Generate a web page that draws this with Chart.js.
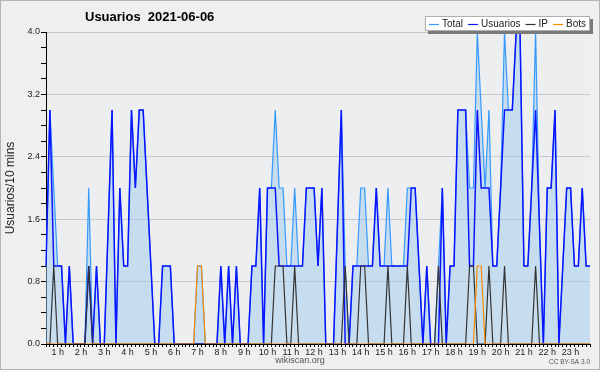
<!DOCTYPE html>
<html>
<head>
<meta charset="utf-8">
<title>Usuarios 2021-06-06</title>
<script src="https://cdn.jsdelivr.net/npm/chart.js@4.4.1/dist/chart.umd.min.js"></script>
<style>
  html, body { margin: 0; padding: 0; background: #efefef; }
  #grafico { display: block; }
</style>
</head>
<body>
<canvas id="grafico" width="600" height="370"></canvas>
<script>
// valores por franja de 10 minutos
const usuarios = [
  1, 3, 1, 1, 1, 0, 1, 0, 0, 0,
  0, 1, 0, 1, 0, 0, 1.5, 3, 0, 2,
  1, 1, 3, 2, 3, 3, 2, 1, 0, 0,
  1, 1, 1, 0, 0, 0, 0, 0, 0, 0,
  0, 0, 0, 0, 0, 1, 0, 1, 0, 1,
  0, 0, 0, 1, 1, 2, 0, 2, 2, 2,
  1, 1, 1, 1, 1, 1, 1, 2, 2, 2,
  1, 2, 0, 0, 0, 1.5, 3, 0, 0, 1,
  1, 1, 1, 1, 1, 2, 1, 1, 1, 1,
  1, 1, 1, 1, 2, 2, 1, 0, 1, 0,
  0, 0, 2, 0, 1, 1, 3, 3, 3, 1,
  1, 3, 2, 2, 2, 1, 1, 2, 3, 3,
  3, 4, 4, 1, 1, 2, 3, 1.5, 0, 2,
  2, 3, 0, 1, 2, 2, 1, 1, 2, 1, 1
];
const ips = [
  0, 0, 1, 0, 0, 0, 0, 0, 0, 0,
  0, 1, 0, 0, 0, 0, 0, 0, 0, 0,
  0, 0, 0, 0, 0, 0, 0, 0, 0, 0,
  0, 0, 0, 0, 0, 0, 0, 0, 0, 0,
  0, 0, 0, 0, 0, 0, 0, 0, 0, 0,
  0, 0, 0, 0, 0, 0, 0, 0, 0, 1,
  1, 1, 0, 0, 1, 0, 0, 0, 0, 0,
  0, 0, 0, 0, 0, 0, 0, 1, 0, 0,
  0, 1, 1, 0, 0, 0, 0, 0, 1, 0,
  0, 0, 0, 1, 0, 0, 0, 0, 0, 0,
  0, 1, 0, 0, 0, 0, 0, 0, 0, 1,
  1, 0, 0, 0, 1, 0, 0, 0, 1, 0,
  0, 0, 0, 0, 0, 0, 1, 0, 0, 0,
  0, 0, 0, 0, 0, 0, 0, 0, 0, 0, 0
];
const bots = [
  0, 0, 0, 0, 0, 0, 0, 0, 0, 0,
  0, 0, 0, 0, 0, 0, 0, 0, 0, 0,
  0, 0, 0, 0, 0, 0, 0, 0, 0, 0,
  0, 0, 0, 0, 0, 0, 0, 0, 0, 1,
  1, 0, 0, 0, 0, 0, 0, 0, 0, 0,
  0, 0, 0, 0, 0, 0, 0, 0, 0, 0,
  0, 0, 0, 0, 0, 0, 0, 0, 0, 0,
  0, 0, 0, 0, 0, 0, 0, 0, 0, 0,
  0, 0, 0, 0, 0, 0, 0, 0, 0, 0,
  0, 0, 0, 0, 0, 0, 0, 0, 0, 0,
  0, 0, 0, 0, 0, 0, 0, 0, 0, 0,
  0, 1, 1, 0, 0, 0, 0, 0, 0, 0,
  0, 0, 0, 0, 0, 0, 0, 0, 0, 0,
  0, 0, 0, 0, 0, 0, 0, 0, 0, 0, 0
];
const total = [
  1, 3, 2, 1, 1, 0, 1, 0, 0, 0,
  0, 2, 0, 1, 0, 0, 1.5, 3, 0, 2,
  1, 1, 3, 2, 3, 3, 2, 1, 0, 0,
  1, 1, 1, 0, 0, 0, 0, 0, 0, 1,
  1, 0, 0, 0, 0, 1, 0, 1, 0, 1,
  0, 0, 0, 1, 1, 2, 0, 2, 2, 3,
  2, 2, 1, 1, 2, 1, 1, 2, 2, 2,
  1, 2, 0, 0, 0, 1.5, 3, 1, 0, 1,
  1, 2, 2, 1, 1, 2, 1, 1, 2, 1,
  1, 1, 1, 2, 2, 2, 1, 0, 1, 0,
  0, 1, 2, 0, 1, 1, 3, 3, 3, 2,
  2, 4, 3, 2, 3, 1, 1, 2, 4, 3,
  3, 4, 4, 1, 1, 2, 4, 1.5, 0, 2,
  2, 3, 0, 1, 2, 2, 1, 1, 2, 1, 1
];
const horas = ['1 h', '2 h', '3 h', '4 h', '5 h', '6 h', '7 h', '8 h', '9 h', '10 h', '11 h', '12 h',
  '13 h', '14 h', '15 h', '16 h', '17 h', '18 h', '19 h', '20 h', '21 h', '22 h', '23 h'];
const titulo = 'Usuarios  2021-06-06';

const fuente = "'Liberation Sans', Arial, sans-serif";

// etiquetas de las franjas (00:00, 00:10, ...)
const franjas = usuarios.map((v, i) => {
    const m = i * 10;
    return String(Math.floor(m / 60)).padStart(2, '0') + ':' + String(m % 60).padStart(2, '0');
});

const esMayor = v => Math.abs(v / 0.8 - Math.round(v / 0.8)) < 1e-6;

// fondo, titulo, leyenda con sombra y pie
const decorado = {
    id: 'decorado',
    beforeDraw(chart) {
        const { ctx, chartArea: a, width, height } = chart;
        ctx.save();
        ctx.fillStyle = '#efefef';
        ctx.fillRect(0, 0, width, height);
        ctx.fillStyle = '#edeef0';
        ctx.fillRect(a.left, a.top, a.right - a.left, a.bottom - a.top);
        ctx.restore();
    },
    afterDraw(chart) {
        const { ctx, width, height } = chart;
        ctx.save();

        ctx.fillStyle = '#000';
        ctx.font = 'bold 13px ' + fuente;
        ctx.textBaseline = 'middle';
        ctx.textAlign = 'left';
        ctx.fillText(titulo, 85, 17);

        // leyenda
        ctx.font = '10px ' + fuente;
        const items = chart.data.datasets.map(d => ({ label: d.label, color: d.borderColor }));
        let ancho = 8;
        items.forEach((it, k) => {
            ancho += 10 + 3 + ctx.measureText(it.label).width + (k < items.length - 1 ? 5 : 0);
        });
        const bx = 590 - ancho, by = 16, bh = 15;
        ctx.fillStyle = '#7a7a7a';
        ctx.fillRect(bx + 3, by + 3, ancho, bh);
        ctx.fillStyle = '#ffffff';
        ctx.fillRect(bx, by, ancho, bh);
        ctx.strokeStyle = '#b0b0b0';
        ctx.lineWidth = 1;
        ctx.strokeRect(bx + 0.5, by + 0.5, ancho - 1, bh - 1);
        let x = bx + 4;
        const ly = by + bh / 2 + 0.5;
        items.forEach(it => {
            ctx.strokeStyle = it.color;
            ctx.lineWidth = 1.2;
            ctx.beginPath();
            ctx.moveTo(x, Math.round(ly) + 0.5);
            ctx.lineTo(x + 10, Math.round(ly) + 0.5);
            ctx.stroke();
            x += 13;
            ctx.fillStyle = '#222';
            ctx.fillText(it.label, x, ly);
            x += ctx.measureText(it.label).width + 5;
        });

        // pie
        ctx.fillStyle = '#555';
        ctx.font = '9px ' + fuente;
        ctx.textAlign = 'center';
        ctx.fillText('wikiscan.org', 300, 361);
        ctx.font = '6.5px ' + fuente;
        ctx.textAlign = 'right';
        ctx.fillText('CC BY-SA 3.0', 590, 362);

        ctx.strokeStyle = '#b4b4b4';
        ctx.lineWidth = 1;
        ctx.strokeRect(0.5, 0.5, width - 1, height - 1);
        ctx.restore();
    }
};

new Chart(document.getElementById('grafico'), {
    type: 'line',
    data: {
        labels: franjas,
        datasets: [
            {
                label: 'Total',
                data: total,
                borderColor: '#3399ff',
                backgroundColor: 'rgba(159, 204, 240, 0.5)',
                fill: 'origin',
                borderWidth: 1.2,
                order: 4
            },
            {
                label: 'Usuarios',
                data: usuarios,
                borderColor: '#0a14ff',
                borderWidth: 1.5,
                fill: false,
                order: 3
            },
            {
                label: 'IP',
                data: ips,
                borderColor: '#333333',
                borderWidth: 1.2,
                fill: false,
                order: 2
            },
            {
                label: 'Bots',
                data: bots,
                borderColor: '#ff8c00',
                borderWidth: 1.2,
                fill: false,
                order: 1
            }
        ]
    },
    options: {
        responsive: false,
        animation: false,
        events: [],
        devicePixelRatio: 1,
        layout: { padding: { top: 32, right: 10, left: 0, bottom: 0 } },
        elements: {
            point: { radius: 0 },
            line: { tension: 0 }
        },
        plugins: {
            legend: { display: false },
            title: { display: false },
            tooltip: { enabled: false }
        },
        scales: {
            x: {
                type: 'category',
                offset: false,
                grid: {
                    display: true,
                    drawOnChartArea: false,
                    drawTicks: true,
                    tickLength: 3,
                    color: '#000',
                    tickColor: '#000'
                },
                border: { display: true, color: '#000', width: 1 },
                ticks: {
                    autoSkip: false,
                    maxRotation: 0,
                    minRotation: 0,
                    padding: 0,
                    color: '#222',
                    font: { family: fuente, size: 9 },
                    callback: (v, i) => (i + 3) % 6 === 0 ? horas[(i + 3) / 6 - 1] : ''
                },
                afterFit: s => { s.height = 26; }
            },
            y: {
                min: 0,
                max: 4,
                ticks: {
                    stepSize: 0.2,
                    padding: 1,
                    color: '#222',
                    font: { family: fuente, size: 9 },
                    callback: v => esMayor(v) ? v.toFixed(1) : ''
                },
                grid: {
                    color: c => (esMayor(c.tick.value) && c.tick.value > 0) ? '#c8c8c8' : 'rgba(0,0,0,0)',
                    tickColor: '#000',
                    tickLength: 5,
                    drawTicks: true
                },
                border: { display: true, color: '#000', width: 1 },
                title: {
                    display: true,
                    text: 'Usuarios/10 mins',
                    color: '#222',
                    font: { family: fuente, size: 12 },
                    padding: { top: 3, bottom: 0 }
                },
                afterFit: s => { s.width = 46; }
            }
        }
    },
    plugins: [decorado]
});
</script>
</body>
</html>
